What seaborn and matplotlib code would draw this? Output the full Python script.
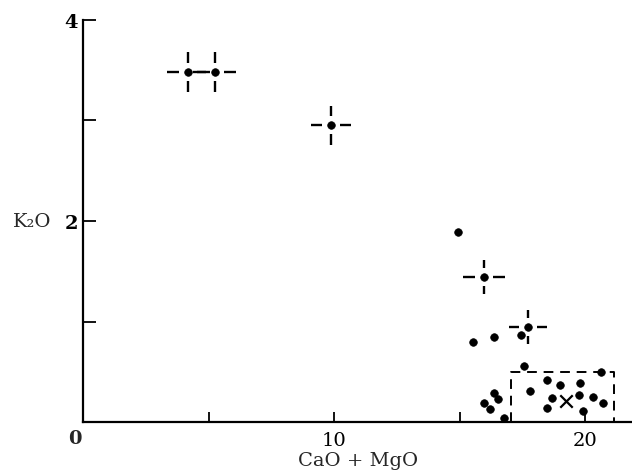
import matplotlib
matplotlib.use("Agg")
import matplotlib.pyplot as plt
import seaborn as sns
import pandas as pd

# ---- data ----
pts_x = [14.94, 15.54, 16.36, 17.43, 17.56, 20.61, 18.49, 18.99, 19.79, 17.82,
         18.66, 19.74, 20.32, 20.72, 18.49, 19.92, 16.36, 16.53, 15.96, 16.20, 16.76]
pts_y = [1.89, 0.80, 0.85, 0.87, 0.56, 0.50, 0.42, 0.37, 0.39, 0.31,
         0.24, 0.27, 0.25, 0.19, 0.14, 0.11, 0.29, 0.23, 0.19, 0.13, 0.04]

cross_x = [4.18, 5.23, 9.86, 15.96, 17.73]
cross_y = [3.48, 3.48, 2.95, 1.44, 0.95]
cross_xerr = [0.85, 0.85, 0.80, 0.83, 0.75]
cross_yerr = [0.20, 0.20, 0.19, 0.17, 0.17]

mean_x = [19.22]
mean_y = [0.21]

box_x = [17.04, 21.15]
box_top = [0.50]

x_ticks = [0, 5, 10, 15, 20]
x_ticklabels = ["", "", "10", "", "20"]
y_ticks = [0, 1, 2, 3, 4]
y_ticklabels = ["", "", "2", "", "4"]

# ---- figure ----
sns.set_theme(style="ticks")
plt.rcParams["font.family"] = ["DejaVu Serif"]

fig = plt.figure(figsize=(6.32, 4.77), dpi=100)
ax = fig.add_axes([0.1318, 0.1126, 0.868, 0.844])

df = pd.DataFrame({"x": pts_x + cross_x, "y": pts_y + cross_y})
sns.scatterplot(data=df, x="x", y="y", ax=ax, color="black", s=30,
                edgecolor="black", linewidth=0.5, zorder=4, legend=False)

# dashed crosses (error arms with a gap around the point)
gx, gy = 0.36, 0.09
for x, y, ex, ey in zip(cross_x, cross_y, cross_xerr, cross_yerr):
    kw = dict(color="black", lw=1.7, solid_capstyle="butt")
    ax.plot([x - ex, x - gx], [y, y], **kw)
    ax.plot([x + gx, x + ex], [y, y], **kw)
    ax.plot([x, x], [y - ey, y - gy], **kw)
    ax.plot([x, x], [y + gy, y + ey], **kw)

# mean marker
ax.scatter(mean_x, mean_y, marker="x", s=80, color="black", linewidths=1.6, zorder=4)

# dashed box
ax.plot([box_x[0], box_x[0], box_x[1], box_x[1]], [0, box_top[0], box_top[0], 0],
        color="black", lw=1.4, linestyle=(0, (5, 3.5)), zorder=3)

# axes styling
ax.set_xlim(0, 21.86)
ax.set_ylim(0, 4)
for s in ["top", "right"]:
    ax.spines[s].set_visible(False)
for s in ["left", "bottom"]:
    ax.spines[s].set_linewidth(1.6)
    ax.spines[s].set_color("black")
ax.set_xticks(x_ticks)
ax.set_xticklabels(x_ticklabels)
ax.set_yticks(y_ticks)
ax.set_yticklabels(y_ticklabels)
ax.tick_params(axis="x", direction="in", length=7, width=1.3, pad=6,
               labelsize=14, colors="black")
ax.tick_params(axis="y", direction="in", length=9, width=1.3, pad=4,
               labelsize=14, colors="black")
for lbl in ax.get_yticklabels():
    lbl.set_fontweight("bold")

ax.annotate("0", xy=(0, 0), xycoords="data", xytext=(-1, -5), textcoords="offset points",
            ha="right", va="top", fontsize=14, fontweight="bold")

ax.set_xlabel("CaO + MgO", fontsize=14, labelpad=2)
ax.set_ylabel("K₂O", fontsize=14, rotation=0, ha="right", va="center")
ax.yaxis.set_label_coords(-0.058, 0.5)

fig.savefig("out.png", dpi=100)
